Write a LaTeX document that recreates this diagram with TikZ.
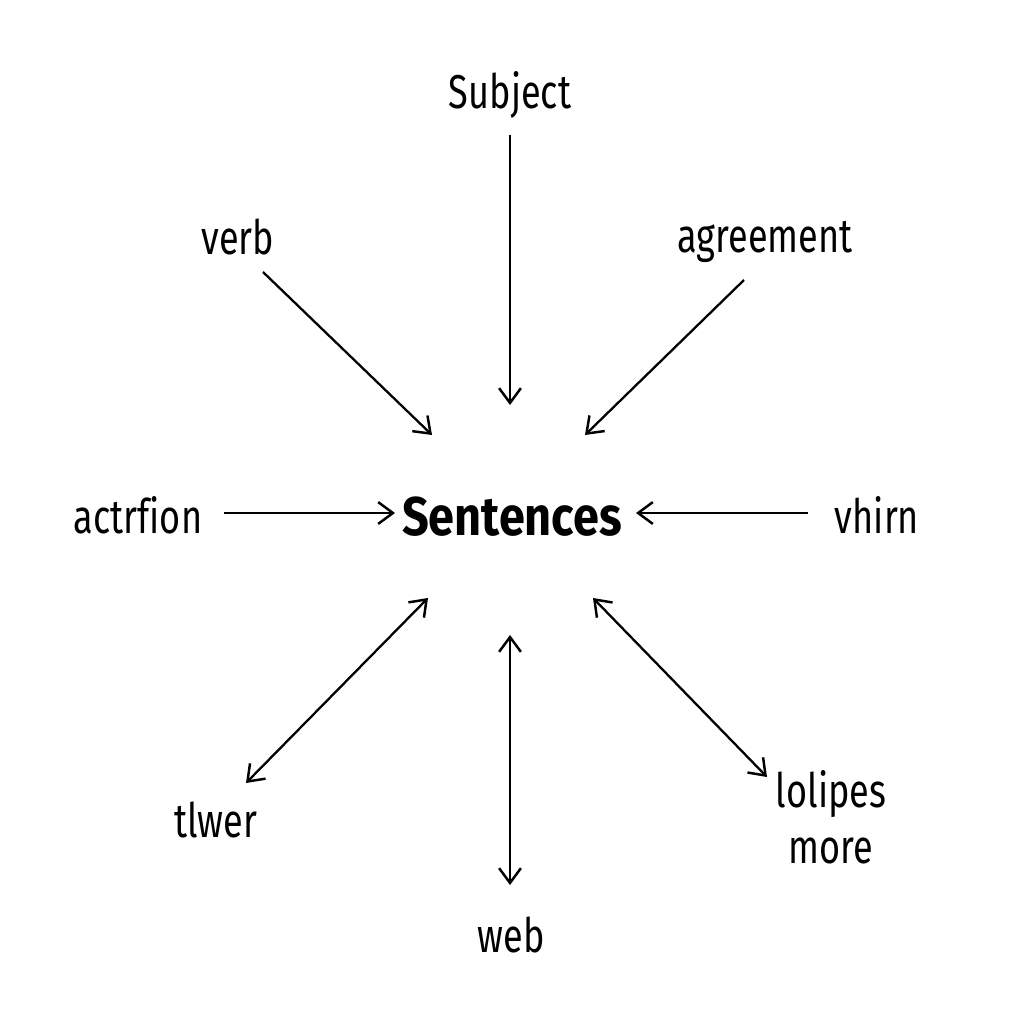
\documentclass[tikz,border=0pt]{standalone}
\usepackage{fontspec}
\setmainfont{Fira Sans}[FakeStretch=0.76,Ligatures=NoCommon]
\newfontfamily\ctrfont{Fira Sans}[FakeStretch=0.86]
\usetikzlibrary{arrows.meta}
\begin{document}
\begin{tikzpicture}[x=0.01cm,y=-0.01cm,
  lbl/.style={inner sep=0pt,font=\fontsize{13.5}{16}\selectfont,align=center},
  ctr/.style={inner sep=0pt,font=\ctrfont\fontsize{15.5}{18}\selectfont\bfseries},
  conn/.style={line width=0.65pt,-{Straight Barb[length=4.2pt,width=6.2pt,line width=0.7pt]}},
  bconn/.style={line width=0.65pt,{Straight Barb[length=4.2pt,width=6.2pt,line width=0.7pt]}-{Straight Barb[length=4.2pt,width=6.2pt,line width=0.7pt]}}]
\useasboundingbox[fill=white] (0,0) rectangle (1024,1024);
\node[ctr] (cen) at (512,517) {Sentences};
\node[lbl] (subj) at (510,95) {Subject};
\node[lbl] (verb) at (238,237) {verb};
\node[lbl] (agr) at (765,242) {agreement};
\node[lbl] (act) at (138,515) {actrf\kern0pt ion};
\node[lbl] (whi) at (877,515) {vhirn};
\node[lbl] (tlw) at (216,820) {tlwer};
\node[lbl] (lol) at (831,817) {lolipes\\more};
\node[lbl] (web) at (511,935) {web};
\coordinate (s1) at (510,135); \coordinate (s2) at (510,405);
\coordinate (v1) at (263,272); \coordinate (v2) at (432,435);
\coordinate (a1) at (744,280); \coordinate (a2) at (585,435);
\coordinate (c1) at (224,513); \coordinate (c2) at (395,513);
\coordinate (w1) at (808,513); \coordinate (w2) at (636,513);
\coordinate (t1) at (428,598); \coordinate (t2) at (246,783);
\coordinate (l1) at (593,598); \coordinate (l2) at (767,777);
\coordinate (b1) at (510,635); \coordinate (b2) at (510,885);
\draw[conn] (s1) -- (s2);
\draw[conn] (v1) -- (v2);
\draw[conn] (a1) -- (a2);
\draw[conn] (c1) -- (c2);
\draw[conn] (w1) -- (w2);
\draw[bconn] (t1) -- (t2);
\draw[bconn] (l1) -- (l2);
\draw[bconn] (b1) -- (b2);
\end{tikzpicture}
\end{document}
